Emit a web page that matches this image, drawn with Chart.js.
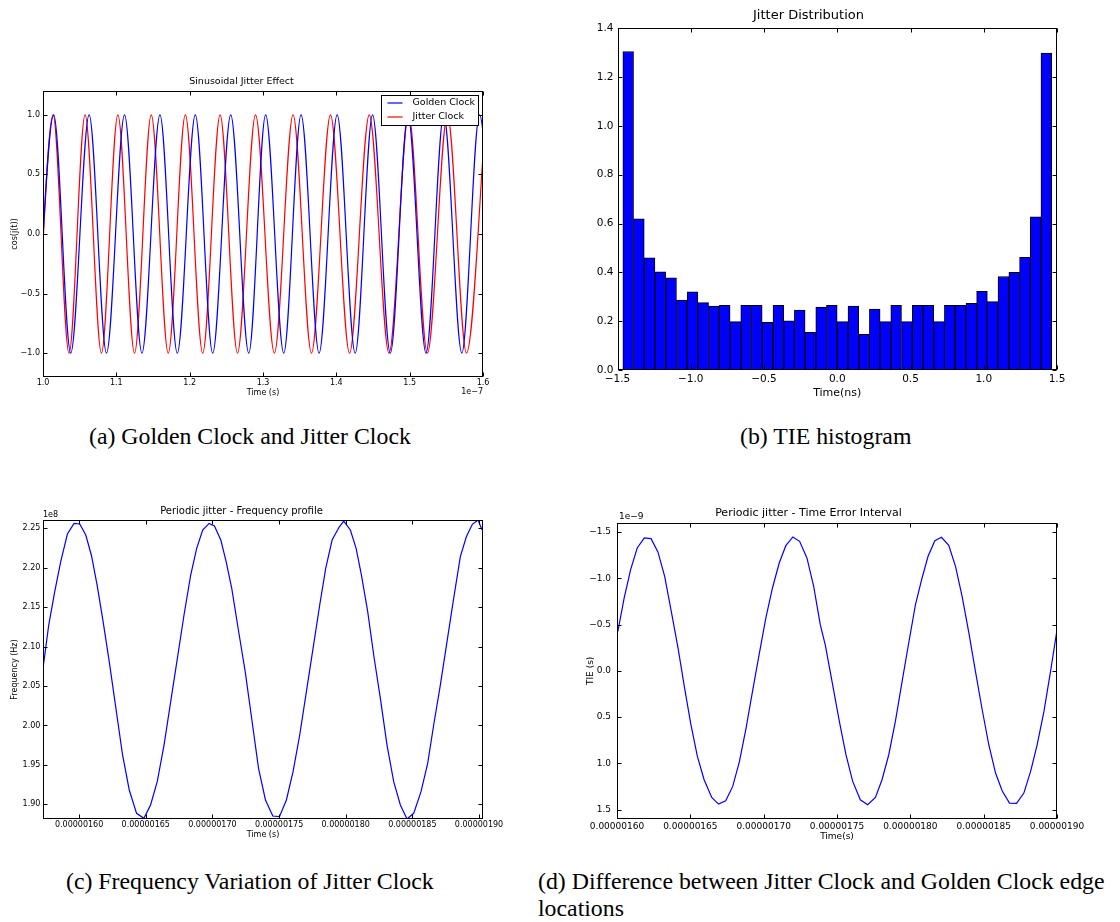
<!DOCTYPE html>
<html>
<head>
<meta charset="utf-8">
<script src="https://cdn.jsdelivr.net/npm/chart.js@4.4.1/dist/chart.umd.min.js"></script>
<style>
  html, body { margin: 0; padding: 0; background: #fff; }
  body { position: relative; width: 1120px; height: 922px; overflow: hidden; }
  canvas { position: absolute; }
  .cap { position: absolute; font-family: 'Liberation Serif', 'Times New Roman', serif; font-size: 23.8px; line-height: 27.3px; white-space: nowrap; color: #000; }
</style>
</head>
<body>
<canvas id="clockChart" width="500" height="350" style="left:0;top:60px;width:500px;height:350px"></canvas>
<canvas id="histChart" width="560" height="410" style="left:560px;top:0;width:560px;height:410px"></canvas>
<canvas id="freqChart" width="520" height="360" style="left:0;top:490px;width:520px;height:360px"></canvas>
<canvas id="tieChart" width="560" height="360" style="left:560px;top:490px;width:560px;height:360px"></canvas>

<div class="cap" style="left:89px;top:423px">(a) Golden Clock and Jitter Clock</div>
<div class="cap" style="left:740px;top:423px">(b) TIE histogram</div>
<div class="cap" style="left:66px;top:868px">(c) Frequency Variation of Jitter Clock</div>
<div class="cap" style="left:538px;top:868px">(d) Difference between Jitter Clock and Golden Clock edge<br>locations</div>

<script>
// (a) clock edges: peak / trough times in units of 1e-7 s
const goldenTimes = [0.9904, 1.0146, 1.0378, 1.0629, 1.0866, 1.1112, 1.1349, 1.1595, 1.1831, 1.2077, 1.2314, 1.2560, 1.2806, 1.3036,
  1.3283, 1.3519, 1.3765, 1.4011, 1.4257, 1.4494, 1.4736, 1.4977, 1.5223, 1.5465, 1.5711, 1.5952, 1.6194];
const goldenLevels = [-1, 1, -1, 1, -1, 1, -1, 1, -1, 1, -1, 1, -1, 1, -1, 1, -1, 1, -1, 1, -1, 1, -1, 1, -1, 1, -1];
const jitterTimes = [0.9918, 1.0137, 1.0355, 1.0574, 1.0797, 1.1021, 1.1248, 1.1476, 1.1708, 1.1941, 1.2178, 1.2415, 1.2652, 1.2898,
  1.3155, 1.3410, 1.3661, 1.3920, 1.4180, 1.4449, 1.4718, 1.4986, 1.5242, 1.5515, 1.5775, 1.6039];
const jitterLevels = [-1, 1, -1, 1, -1, 1, -1, 1, -1, 1, -1, 1, -1, 1, -1, 1, -1, 1, -1, 1, -1, 1, -1, 1, -1, 1];
const clockXTicks = [1.0, 1.1, 1.2, 1.3, 1.4, 1.5, 1.6];
const clockYTicks = [-1.0, -0.5, 0.0, 0.5, 1.0];

// (b) TIE histogram (ns)
const tieBinCenters = [-1.427, -1.354, -1.281, -1.208, -1.134, -1.061, -0.988, -0.915, -0.842, -0.768,
  -0.695, -0.622, -0.549, -0.476, -0.402, -0.329, -0.256, -0.183, -0.110, -0.037,
  0.037, 0.110, 0.183, 0.256, 0.329, 0.402, 0.476, 0.549, 0.622, 0.695,
  0.768, 0.842, 0.915, 0.988, 1.061, 1.134, 1.208, 1.281, 1.354, 1.427];
const tieDensity = [1.305, 0.619, 0.460, 0.402, 0.378, 0.286, 0.320, 0.276, 0.262, 0.265,
  0.198, 0.265, 0.265, 0.195, 0.265, 0.201, 0.245, 0.154, 0.258, 0.265,
  0.198, 0.262, 0.146, 0.250, 0.198, 0.265, 0.198, 0.265, 0.265, 0.198,
  0.265, 0.265, 0.273, 0.322, 0.280, 0.383, 0.400, 0.462, 0.628, 1.298];
const histXTicks = [-1.5, -1.0, -0.5, 0.0, 0.5, 1.0, 1.5];
const histYTicks = [0.0, 0.2, 0.4, 0.6, 0.8, 1.0, 1.2, 1.4];

// (c) frequency profile: time in us, frequency in 1e8 Hz
const freqTimes = [1.5729, 1.5772, 1.5817, 1.5862, 1.5912, 1.5962, 1.6005, 1.6050, 1.6093, 1.6135,
  1.6180, 1.6226, 1.6276, 1.6326, 1.6376, 1.6431, 1.6486, 1.6536, 1.6586, 1.6637,
  1.6687, 1.6737, 1.6787, 1.6837, 1.6882, 1.6927, 1.6975, 1.7015, 1.7063, 1.7103,
  1.7145, 1.7195, 1.7246, 1.7291, 1.7346, 1.7398, 1.7453, 1.7503, 1.7555, 1.7605,
  1.7655, 1.7705, 1.7755, 1.7805, 1.7850, 1.7898, 1.7948, 1.7985, 1.8035, 1.8078,
  1.8118, 1.8165, 1.8210, 1.8260, 1.8310, 1.8360, 1.8410, 1.8460, 1.8510, 1.8565,
  1.8615, 1.8660, 1.8710, 1.8760, 1.8810, 1.8860, 1.8905, 1.8950, 1.8993, 1.9023];
const freqValues = [2.0725, 2.1274, 2.1697, 2.2077, 2.2428, 2.2563, 2.2555, 2.2415, 2.2153, 2.1781,
  2.1316, 2.0809, 2.0217, 1.9626, 1.9182, 1.8886, 1.8822, 1.8992, 1.9287, 1.9752,
  2.0302, 2.0851, 2.1401, 2.1908, 2.2246, 2.2479, 2.2563, 2.2530, 2.2352, 2.2077,
  2.1739, 2.1211, 2.0682, 2.0133, 1.9457, 1.9055, 1.8852, 1.8844, 1.9055, 1.9414,
  1.9879, 2.0429, 2.0978, 2.1528, 2.1993, 2.2352, 2.2508, 2.2593, 2.2479, 2.2246,
  2.1908, 2.1443, 2.0894, 2.0344, 1.9752, 1.9287, 1.8992, 1.8814, 1.8886, 1.9161,
  1.9520, 2.0006, 2.0513, 2.1063, 2.1612, 2.2141, 2.2394, 2.2551, 2.2606, 2.2479];
const freqXTicks = [1.60, 1.65, 1.70, 1.75, 1.80, 1.85, 1.90];
const freqYTicks = [1.90, 1.95, 2.00, 2.05, 2.10, 2.15, 2.20, 2.25];

// (d) time interval error: time in us, TIE in 1e-9 s
const tieTimes = [1.6006, 1.6049, 1.6093, 1.6138, 1.6186, 1.6232, 1.6279, 1.6325, 1.6370, 1.6416,
  1.6459, 1.6502, 1.6548, 1.6594, 1.6646, 1.6692, 1.6741, 1.6789, 1.6835, 1.6880,
  1.6924, 1.6969, 1.7015, 1.7060, 1.7106, 1.7151, 1.7199, 1.7245, 1.7295, 1.7341,
  1.7386, 1.7420, 1.7466, 1.7516, 1.7561, 1.7607, 1.7659, 1.7709, 1.7762, 1.7807,
  1.7853, 1.7898, 1.7944, 1.7989, 1.8035, 1.8080, 1.8121, 1.8167, 1.8212, 1.8262,
  1.8308, 1.8353, 1.8399, 1.8444, 1.8490, 1.8535, 1.8581, 1.8626, 1.8676, 1.8724,
  1.8774, 1.8820, 1.8865, 1.8911, 1.8956, 1.9002];
const tieValues = [-0.427, -0.787, -1.093, -1.327, -1.435, -1.428, -1.284, -1.021, -0.643, -0.247,
  0.167, 0.564, 0.924, 1.176, 1.367, 1.439, 1.403, 1.248, 0.978, 0.618,
  0.221, -0.175, -0.571, -0.895, -1.165, -1.352, -1.446, -1.399, -1.219, -0.913,
  -0.499, -0.280, 0.113, 0.546, 0.906, 1.194, 1.392, 1.446, 1.367, 1.176,
  0.906, 0.546, 0.113, -0.301, -0.715, -1.003, -1.237, -1.406, -1.442, -1.356,
  -1.129, -0.805, -0.409, 0.005, 0.420, 0.798, 1.104, 1.295, 1.428, 1.431,
  1.320, 1.086, 0.798, 0.438, 0.005, -0.463];
const tieXTicks = [1.60, 1.65, 1.70, 1.75, 1.80, 1.85, 1.90];
const tieYTicks = [-1.5, -1.0, -0.5, 0.0, 0.5, 1.0, 1.5];

Chart.defaults.font.family = '"DejaVu Sans", sans-serif';
Chart.defaults.color = '#000';
Chart.defaults.animation = false;

const fmt = (v, d) => v.toFixed(d).replace('-', '\u2212');
const pts = (xs, ys) => xs.map((x, i) => ({ x: x, y: ys[i] }));

// matplotlib style box with inward ticks on all sides, offset text and inset legend
const framePlugin = {
  id: 'frame',
  afterDraw(chart, args, opts) {
    const { ctx, chartArea: a } = chart;
    const xs = chart.scales.x, ys = chart.scales.y;
    const L = Math.round(a.left) + 0.5, R = Math.round(a.right) - 0.5;
    const T = Math.round(a.top) + 0.5, B = Math.round(a.bottom) - 0.5;
    const len = 4;
    ctx.save();
    ctx.strokeStyle = '#000';
    ctx.lineWidth = 1;
    ctx.strokeRect(L, T, R - L, B - T);
    ctx.beginPath();
    xs.ticks.forEach(t => {
      const p = Math.round(xs.getPixelForValue(t.value)) + 0.5;
      ctx.moveTo(p, B); ctx.lineTo(p, B - len);
      ctx.moveTo(p, T); ctx.lineTo(p, T + len);
    });
    ys.ticks.forEach(t => {
      const p = Math.round(ys.getPixelForValue(t.value)) + 0.5;
      ctx.moveTo(L, p); ctx.lineTo(L + len, p);
      ctx.moveTo(R, p); ctx.lineTo(R - len, p);
    });
    ctx.stroke();

    const o = opts.offsetText;
    if (o) {
      ctx.fillStyle = '#000';
      ctx.font = o.size + 'px "DejaVu Sans"';
      ctx.textBaseline = 'middle';
      ctx.textAlign = o.align;
      const x = o.align === 'right' ? a.right : a.left + o.dx;
      const y = o.side === 'bottom' ? a.bottom + o.dy : a.top - o.dy;
      ctx.fillText(o.text, x, y);
    }

    const lg = opts.legend;
    if (lg) {
      const bx = Math.round(a.right - lg.inset - lg.width) + 0.5;
      const by = Math.round(a.top + lg.insetTop) + 0.5;
      ctx.fillStyle = '#fff';
      ctx.fillRect(bx, by, lg.width, lg.height);
      ctx.strokeStyle = '#000';
      ctx.lineWidth = 1;
      ctx.strokeRect(bx, by, lg.width, lg.height);
      ctx.font = lg.size + 'px "DejaVu Sans"';
      ctx.textAlign = 'left';
      ctx.textBaseline = 'middle';
      chart.data.datasets.forEach((ds, i) => {
        const y = by + 7.5 + i * 14;
        ctx.strokeStyle = ds.borderColor;
        ctx.lineWidth = 1.2;
        ctx.beginPath();
        ctx.moveTo(bx + 6, y); ctx.lineTo(bx + 21, y);
        ctx.stroke();
        ctx.fillStyle = '#000';
        ctx.fillText(ds.label, bx + 31, y);
      });
    }
    ctx.restore();
  }
};

function xAxis(cfg) {
  return {
    type: 'linear', min: cfg.min, max: cfg.max, offset: false,
    grid: { display: false, drawTicks: false, tickLength: 0, offset: false }, border: { display: false },
    afterBuildTicks: s => { s.ticks = cfg.ticks.map(v => ({ value: v })); },
    afterFit: s => { s.height = cfg.height; },
    ticks: { font: { size: cfg.tickSize }, padding: cfg.tickPad, maxRotation: 0, autoSkip: false, callback: cfg.label },
    title: { display: true, text: cfg.title, font: { size: cfg.titleSize }, padding: { top: 0, bottom: cfg.titlePad } }
  };
}

function yAxis(cfg) {
  return {
    type: 'linear', min: cfg.min, max: cfg.max, reverse: !!cfg.reverse,
    grid: { display: false, drawTicks: false, tickLength: 0 }, border: { display: false },
    afterBuildTicks: s => { s.ticks = cfg.ticks.map(v => ({ value: v })); },
    afterFit: s => { s.width = cfg.width; },
    ticks: { font: { size: cfg.tickSize }, padding: cfg.tickPad, autoSkip: false, callback: cfg.label },
    title: { display: !!cfg.title, text: cfg.title || '', font: { size: cfg.titleSize }, padding: { top: cfg.titlePad, bottom: 0 } }
  };
}

function titleOpts(text, size, top, bottom) {
  return { display: true, text: text, font: { size: size, weight: 'normal' }, color: '#000', padding: { top: top, bottom: bottom } };
}

// (a) Sinusoidal Jitter Effect
new Chart(document.getElementById('clockChart'), {
  type: 'line',
  data: {
    datasets: [
      { label: 'Golden Clock', data: pts(goldenTimes, goldenLevels), borderColor: '#0000ff', borderWidth: 1.2, pointRadius: 0, cubicInterpolationMode: 'monotone' },
      { label: 'Jitter Clock', data: pts(jitterTimes, jitterLevels), borderColor: '#ff0000', borderWidth: 1.2, pointRadius: 0, cubicInterpolationMode: 'monotone' }
    ]
  },
  options: {
    responsive: false,
    elements: { line: { capBezierPoints: false } },
    layout: { padding: { left: 0, right: 17, top: 0, bottom: 0 } },
    scales: {
      x: xAxis({ min: 1.0, max: 1.6, ticks: clockXTicks, height: 33, tickSize: 8, tickPad: 1.2, label: v => fmt(v, 1),
        title: 'Time (s)', titleSize: 8, titlePad: 12.2 }),
      y: yAxis({ min: -1.2, max: 1.2, ticks: clockYTicks, width: 43, tickSize: 8, tickPad: 3, label: v => fmt(v, 1),
        title: 'cos(j(t))', titleSize: 8, titlePad: 10.2 })
    },
    plugins: {
      legend: { display: false },
      tooltip: { enabled: false },
      title: titleOpts('Sinusoidal Jitter Effect', 9.5, 16.3, 3.3),
      frame: {
        offsetText: { text: '1e\u22127', size: 8, align: 'right', side: 'bottom', dy: 15 },
        legend: { inset: 5, insetTop: 4, width: 97, height: 30, size: 9.5 }
      }
    }
  },
  plugins: [framePlugin]
});

// (b) Jitter Distribution
new Chart(document.getElementById('histChart'), {
  type: 'bar',
  data: {
    datasets: [{
      label: 'TIE',
      data: pts(tieBinCenters, tieDensity),
      backgroundColor: '#0000ff', borderColor: '#000', borderWidth: 1, borderSkipped: false,
      barPercentage: 1, categoryPercentage: 1
    }]
  },
  options: {
    responsive: false,
    layout: { padding: { left: 0, right: 63, top: 0, bottom: 0 } },
    scales: {
      x: xAxis({ min: -1.5, max: 1.5, ticks: histXTicks, height: 40, tickSize: 10.5, tickPad: 3.2, label: v => fmt(v, 1),
        title: 'Time(ns)', titleSize: 11, titlePad: 10.4 }),
      y: yAxis({ min: 0, max: 1.4, ticks: histYTicks, width: 57.5, tickSize: 10.5, tickPad: 4, label: v => fmt(v, 1) })
    },
    plugins: {
      legend: { display: false },
      tooltip: { enabled: false },
      title: titleOpts('Jitter Distribution', 13, 8.2, 4.5),
      frame: {}
    }
  },
  plugins: [framePlugin]
});

// (c) Periodic jitter - Frequency profile
new Chart(document.getElementById('freqChart'), {
  type: 'line',
  data: {
    datasets: [{ label: 'Frequency', data: pts(freqTimes, freqValues), borderColor: '#0000ff', borderWidth: 1.2, pointRadius: 0, tension: 0 }]
  },
  options: {
    responsive: false,
    layout: { padding: { left: 0, right: 37, top: 0, bottom: 0 } },
    scales: {
      x: xAxis({ min: 1.5729, max: 1.903, ticks: freqXTicks, height: 31, tickSize: 8, tickPad: 1.2, label: v => (v * 1e-6).toFixed(8),
        title: 'Time (s)', titleSize: 8, titlePad: 10.2 }),
      y: yAxis({ min: 1.8814, max: 2.2606, ticks: freqYTicks, width: 43, tickSize: 8, tickPad: 2.6, label: v => fmt(v, 2),
        title: 'Frequency (Hz)', titleSize: 8, titlePad: 10.2 })
    },
    plugins: {
      legend: { display: false },
      tooltip: { enabled: false },
      title: titleOpts('Periodic jitter - Frequency profile', 10, 15, 3),
      frame: { offsetText: { text: '1e8', size: 8, align: 'left', side: 'top', dx: 0, dy: 5 } }
    }
  },
  plugins: [framePlugin]
});

// (d) Periodic jitter - Time Error Interval
new Chart(document.getElementById('tieChart'), {
  type: 'line',
  data: {
    datasets: [{ label: 'TIE', data: pts(tieTimes, tieValues), borderColor: '#0000ff', borderWidth: 1.2, pointRadius: 0, tension: 0 }]
  },
  options: {
    responsive: false,
    layout: { padding: { left: 0, right: 63, top: 0, bottom: 0 } },
    scales: {
      x: xAxis({ min: 1.60, max: 1.90, ticks: tieXTicks, height: 31, tickSize: 9, tickPad: 2.3, label: v => (v * 1e-6).toFixed(8),
        title: 'Time(s)', titleSize: 9, titlePad: 7.9 }),
      y: yAxis({ min: -1.6, max: 1.6, reverse: true, ticks: tieYTicks, width: 57, tickSize: 9, tickPad: 6, label: v => fmt(v, 1),
        title: 'TIE (s)', titleSize: 9, titlePad: 25 })
    },
    plugins: {
      legend: { display: false },
      tooltip: { enabled: false },
      title: titleOpts('Periodic jitter - Time Error Interval', 11, 16.7, 2.8),
      frame: { offsetText: { text: '1e\u22129', size: 9, align: 'left', side: 'top', dx: 2, dy: 6 } }
    }
  },
  plugins: [framePlugin]
});
</script>
</body>
</html>
